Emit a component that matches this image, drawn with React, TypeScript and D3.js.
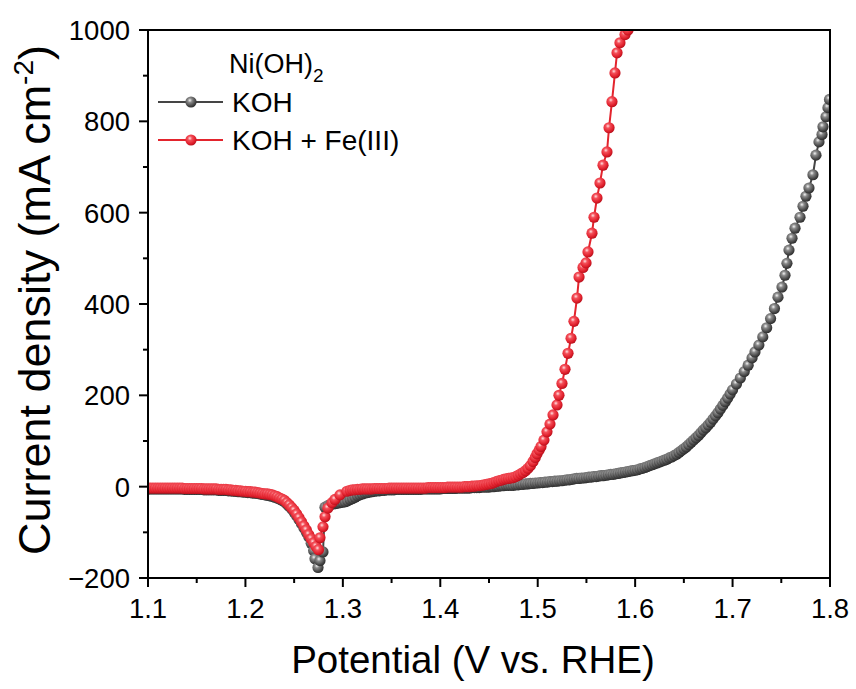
import React from 'react';
import * as d3 from 'd3';

// LSV polarization data for Ni(OH)2: [potential (V vs. RHE), current density (mA cm^-2)]
const kohPoints: [number, number][] = [
  [1.1, -5], [1.1025, -5], [1.105, -5], [1.1075, -5], [1.11, -5], [1.1125, -5], [1.115, -5], [1.1175, -5],
  [1.12, -5], [1.1225, -5], [1.125, -5], [1.1275, -5], [1.13, -5], [1.1325, -5], [1.135, -5], [1.1375, -6],
  [1.14, -6], [1.1425, -6], [1.145, -6], [1.1475, -6], [1.15, -6], [1.1525, -6], [1.155, -6], [1.1575, -7],
  [1.16, -7], [1.1625, -7], [1.165, -7], [1.1675, -7], [1.17, -7], [1.1725, -8], [1.175, -8], [1.1775, -8],
  [1.18, -8], [1.1825, -9], [1.185, -9], [1.1875, -10], [1.19, -10], [1.1925, -11], [1.195, -11], [1.1975, -12],
  [1.2, -12], [1.2025, -13], [1.205, -13], [1.2075, -14], [1.21, -14], [1.2125, -15], [1.215, -16], [1.2175, -17],
  [1.22, -18], [1.2225, -19], [1.225, -20], [1.2275, -21], [1.23, -23], [1.2325, -25], [1.235, -27], [1.2375, -30],
  [1.24, -33], [1.2425, -38], [1.245, -43], [1.2475, -49], [1.25, -56], [1.2525, -64], [1.255, -72], [1.2575, -81],
  [1.26, -90], [1.2625, -100], [1.265, -110], [1.2675, -124], [1.27, -140], [1.2714, -158], [1.2745, -177],
  [1.2765, -162], [1.2796, -143], [1.2817, -45], [1.285, -41], [1.2875, -39], [1.29, -38], [1.2925, -37],
  [1.295, -36], [1.2975, -35], [1.3, -34], [1.3025, -33], [1.305, -31], [1.3075, -28], [1.31, -26], [1.3125, -23],
  [1.315, -20], [1.3175, -18], [1.32, -16], [1.3225, -14], [1.325, -13], [1.3275, -12], [1.33, -11], [1.3325, -10],
  [1.335, -9], [1.3375, -9], [1.34, -8], [1.3425, -8], [1.345, -7], [1.3475, -7], [1.35, -7], [1.3525, -7],
  [1.355, -6], [1.3575, -6], [1.36, -6], [1.3625, -6], [1.365, -6], [1.3675, -6], [1.37, -6], [1.3725, -6],
  [1.375, -6], [1.3775, -6], [1.38, -6], [1.3825, -5], [1.385, -5], [1.3875, -5], [1.39, -5], [1.3925, -5],
  [1.395, -5], [1.3975, -5], [1.4, -5], [1.4025, -4], [1.405, -4], [1.4075, -4], [1.41, -4], [1.4125, -4],
  [1.415, -4], [1.4175, -3], [1.42, -3], [1.4225, -3], [1.425, -3], [1.4275, -3], [1.43, -3], [1.4325, -2],
  [1.435, -2], [1.4375, -2], [1.44, -2], [1.4425, -1], [1.445, -1], [1.4475, -1], [1.45, -1], [1.4525, 0],
  [1.455, 0], [1.4575, 1], [1.46, 1], [1.4625, 2], [1.465, 2], [1.4675, 3], [1.47, 3], [1.4725, 3],
  [1.475, 3], [1.4775, 4], [1.48, 4], [1.4825, 5], [1.485, 5], [1.4875, 6], [1.49, 6], [1.4925, 7],
  [1.495, 7], [1.4975, 8], [1.5, 8], [1.5025, 9], [1.505, 9], [1.5075, 10], [1.51, 10], [1.5125, 11],
  [1.515, 11], [1.5175, 12], [1.52, 12], [1.5225, 13], [1.525, 13], [1.5275, 14], [1.53, 15], [1.5325, 15],
  [1.535, 16], [1.5375, 17], [1.54, 18], [1.5425, 18], [1.545, 19], [1.5475, 19], [1.55, 20], [1.5525, 21],
  [1.555, 21], [1.5575, 22], [1.56, 22], [1.5625, 23], [1.565, 24], [1.5675, 24], [1.57, 25], [1.5725, 26],
  [1.575, 27], [1.5775, 27], [1.58, 28], [1.5825, 29], [1.585, 30], [1.5875, 31], [1.59, 32], [1.5925, 33],
  [1.595, 34], [1.5975, 35], [1.6, 36], [1.6025, 37], [1.605, 39], [1.6075, 40], [1.61, 42], [1.6125, 44],
  [1.615, 46], [1.6175, 48], [1.62, 50], [1.6225, 52], [1.625, 54], [1.6275, 56], [1.63, 58], [1.6325, 60],
  [1.635, 63], [1.6375, 65], [1.64, 68], [1.6425, 71], [1.645, 75], [1.6475, 79], [1.65, 83], [1.6525, 87],
  [1.655, 92], [1.6575, 97], [1.66, 102], [1.6625, 107], [1.665, 112], [1.6675, 118], [1.67, 124], [1.6725, 129],
  [1.675, 135], [1.6775, 141], [1.68, 148], [1.6825, 155], [1.685, 162], [1.6875, 170], [1.69, 178], [1.6925, 186],
  [1.695, 194], [1.6975, 203], [1.7, 212], [1.704, 225], [1.708, 238], [1.712, 252], [1.716, 266], [1.72, 282],
  [1.723, 295], [1.727, 310], [1.731, 328], [1.735, 348], [1.739, 368], [1.743, 390], [1.7466, 415], [1.7507, 437],
  [1.7538, 463], [1.7558, 489], [1.7579, 518], [1.761, 544], [1.7641, 566], [1.7692, 590], [1.7723, 614],
  [1.7753, 636], [1.7784, 654], [1.7825, 683], [1.7856, 726], [1.7887, 755], [1.7918, 771], [1.7928, 788],
  [1.7959, 810], [1.7979, 830], [1.7995, 848],
];

const fePoints: [number, number][] = [
  [1.1, -3], [1.1025, -3], [1.105, -3], [1.1075, -3], [1.11, -3], [1.1125, -3], [1.115, -3], [1.1175, -3],
  [1.12, -3], [1.1225, -3], [1.125, -3], [1.1275, -3], [1.13, -3], [1.1325, -3], [1.135, -3], [1.1375, -4],
  [1.14, -4], [1.1425, -4], [1.145, -4], [1.1475, -4], [1.15, -4], [1.1525, -4], [1.155, -4], [1.1575, -5],
  [1.16, -5], [1.1625, -5], [1.165, -5], [1.1675, -5], [1.17, -5], [1.1725, -6], [1.175, -6], [1.1775, -6],
  [1.18, -6], [1.1825, -7], [1.185, -7], [1.1875, -8], [1.19, -8], [1.1925, -9], [1.195, -9], [1.1975, -10],
  [1.2, -10], [1.2025, -11], [1.205, -11], [1.2075, -12], [1.21, -12], [1.2125, -13], [1.215, -14], [1.2175, -15],
  [1.22, -16], [1.2225, -16], [1.225, -17], [1.2275, -18], [1.23, -20], [1.2325, -22], [1.235, -25], [1.2375, -27],
  [1.24, -30], [1.2425, -35], [1.245, -40], [1.2475, -46], [1.25, -52], [1.2525, -60], [1.255, -68], [1.2575, -77],
  [1.26, -86], [1.2625, -95], [1.265, -105], [1.2675, -114], [1.27, -123], [1.2725, -131], [1.275, -138],
  [1.2765, -112], [1.2796, -88], [1.2817, -66], [1.2847, -47], [1.2889, -35], [1.2919, -28], [1.2971, -18],
  [1.3042, -10], [1.3075, -8], [1.31, -7], [1.3125, -7], [1.315, -6], [1.3175, -6], [1.32, -5], [1.3225, -5],
  [1.325, -5], [1.3275, -5], [1.33, -5], [1.3325, -4], [1.335, -4], [1.3375, -4], [1.34, -4], [1.3425, -4],
  [1.345, -4], [1.3475, -3], [1.35, -3], [1.3525, -3], [1.355, -3], [1.3575, -3], [1.36, -3], [1.3625, -3],
  [1.365, -3], [1.3675, -3], [1.37, -3], [1.3725, -3], [1.375, -3], [1.3775, -3], [1.38, -3], [1.3825, -3],
  [1.385, -3], [1.3875, -2], [1.39, -2], [1.3925, -2], [1.395, -2], [1.3975, -2], [1.4, -2], [1.4025, -2],
  [1.405, -2], [1.4075, -1], [1.41, -1], [1.4125, -1], [1.415, -1], [1.4175, -1], [1.42, -1], [1.4225, -1],
  [1.425, 0], [1.4275, 0], [1.43, 0], [1.4325, 1], [1.435, 1], [1.4375, 2], [1.44, 2], [1.4425, 3],
  [1.445, 4], [1.4475, 5], [1.45, 6], [1.4525, 7], [1.455, 9], [1.4575, 11], [1.46, 13], [1.4625, 14],
  [1.465, 16], [1.4675, 17], [1.47, 18], [1.4725, 19], [1.475, 20], [1.4775, 22], [1.48, 25], [1.4825, 28],
  [1.485, 31], [1.4875, 35], [1.49, 40], [1.4925, 46], [1.4952, 55], [1.4975, 64], [1.4993, 72], [1.5015, 80],
  [1.5034, 88], [1.5064, 102], [1.5095, 120], [1.5126, 137], [1.5157, 157], [1.5198, 179], [1.5218, 200],
  [1.5249, 226], [1.528, 257], [1.5311, 292], [1.5342, 325], [1.5372, 362], [1.5403, 413], [1.5424, 459],
  [1.5465, 480], [1.5496, 490], [1.5516, 514], [1.5557, 555], [1.5578, 590], [1.5608, 632], [1.5639, 665],
  [1.567, 704], [1.5711, 733], [1.5732, 786], [1.5762, 843], [1.5793, 906], [1.5814, 950], [1.5844, 972],
  [1.5896, 990], [1.5927, 1000],
];

const xTicks = [1.1, 1.2, 1.3, 1.4, 1.5, 1.6, 1.7, 1.8];
const xMinorTicks = [1.15, 1.25, 1.35, 1.45, 1.55, 1.65, 1.75];
const yTicks = [-200, 0, 200, 400, 600, 800, 1000];
const yMinorTicks = [-100, 100, 300, 500, 700, 900];

const W = 856;
const H = 689;
const plot = { left: 148, right: 830, top: 30, bottom: 578 };
const FONT = "'Liberation Sans', Arial, Helvetica, sans-serif";

type Pt = [number, number];

export default function App() {
  const x = d3.scaleLinear().domain([1.1, 1.8]).range([plot.left, plot.right]);
  const y = d3.scaleLinear().domain([-200, 1000]).range([plot.bottom, plot.top]);
  const line = d3.line<Pt>().x((d) => x(d[0])).y((d) => y(d[1]));

  const series = [
    { key: 'koh', label: 'KOH', pts: kohPoints, stroke: '#454545', grad: 'ballGray' },
    { key: 'fe', label: 'KOH + Fe(III)', pts: fePoints, stroke: '#e3242d', grad: 'ballRed' },
  ];

  const r = 5.6;
  const fmtX = d3.format('.1f');
  const fmtY = (v: number) => (v < 0 ? '\u2212' + Math.abs(v) : String(v));

  return (
    <div style={{ position: 'absolute', left: 0, top: 0 }}>
      <svg width={W} height={H} style={{ display: 'block', background: '#fff' }} fontFamily={FONT}>
        <defs>
          <radialGradient id="ballGray" cx="0.4" cy="0.35" r="0.65">
            <stop offset="0" stopColor="#f4f4f4" />
            <stop offset="0.3" stopColor="#8a8a8a" />
            <stop offset="0.75" stopColor="#4a4a4a" />
            <stop offset="1" stopColor="#2c2c2c" />
          </radialGradient>
          <radialGradient id="ballRed" cx="0.4" cy="0.35" r="0.65">
            <stop offset="0" stopColor="#ffe2e2" />
            <stop offset="0.3" stopColor="#f4505a" />
            <stop offset="0.75" stopColor="#e0202c" />
            <stop offset="1" stopColor="#b8101c" />
          </radialGradient>
          <clipPath id="plotClip">
            <rect x={plot.left} y={plot.top} width={plot.right - plot.left} height={plot.bottom - plot.top} />
          </clipPath>
        </defs>

        {/* data */}
        <g clipPath="url(#plotClip)">
          {series.map((s) => (
            <g key={s.key}>
              <path d={line(s.pts) || ''} fill="none" stroke={s.stroke} strokeWidth={2} />
              {s.pts.map((d, i) => (
                <circle key={i} cx={x(d[0])} cy={y(d[1])} r={r} fill={`url(#${s.grad})`} />
              ))}
            </g>
          ))}
        </g>

        {/* frame */}
        <rect
          x={plot.left}
          y={plot.top}
          width={plot.right - plot.left}
          height={plot.bottom - plot.top}
          fill="none"
          stroke="#000"
          strokeWidth={2}
        />

        {/* x axis ticks */}
        {xTicks.map((t) => (
          <g key={'xt' + t}>
            <line x1={x(t)} x2={x(t)} y1={plot.bottom} y2={plot.bottom + 9} stroke="#000" strokeWidth={2} />
            <text x={x(t)} y={plot.bottom + 40} fontSize={27.5} textAnchor="middle" fill="#000">
              {fmtX(t)}
            </text>
          </g>
        ))}
        {xMinorTicks.map((t) => (
          <line key={'xm' + t} x1={x(t)} x2={x(t)} y1={plot.bottom} y2={plot.bottom + 5} stroke="#000" strokeWidth={2} />
        ))}

        {/* y axis ticks */}
        {yTicks.map((t) => (
          <g key={'yt' + t}>
            <line x1={plot.left - 9} x2={plot.left} y1={y(t)} y2={y(t)} stroke="#000" strokeWidth={2} />
            <text x={plot.left - 18} y={y(t) + 10} fontSize={27.5} textAnchor="end" fill="#000">
              {fmtY(t)}
            </text>
          </g>
        ))}
        {yMinorTicks.map((t) => (
          <line key={'ym' + t} x1={plot.left - 5} x2={plot.left} y1={y(t)} y2={y(t)} stroke="#000" strokeWidth={2} />
        ))}

        {/* axis titles */}
        <text x={473} y={673} fontSize={38.5} textAnchor="middle" fill="#000">
          Potential (V vs. RHE)
        </text>
        <text transform="translate(50,300) rotate(-90)" fontSize={45} textAnchor="middle" fill="#000">
          Current density (mA cm
          <tspan dy={-17} fontSize={28}>-2</tspan>
          <tspan dy={17}>)</tspan>
        </text>

        {/* legend */}
        <text x={229} y={73} fontSize={27} fill="#000">
          Ni(OH)
          <tspan dy={9} fontSize={19}>2</tspan>
        </text>
        {series.map((s, i) => {
          const ly = 102 + i * 38;
          return (
            <g key={'lg' + s.key}>
              <line x1={158} x2={223} y1={ly} y2={ly} stroke={s.stroke} strokeWidth={2} />
              <circle cx={191} cy={ly} r={r} fill={`url(#${s.grad})`} />
              <text x={232} y={ly + 10} fontSize={28} fill="#000">
                {s.label}
              </text>
            </g>
          );
        })}
      </svg>
    </div>
  );
}
